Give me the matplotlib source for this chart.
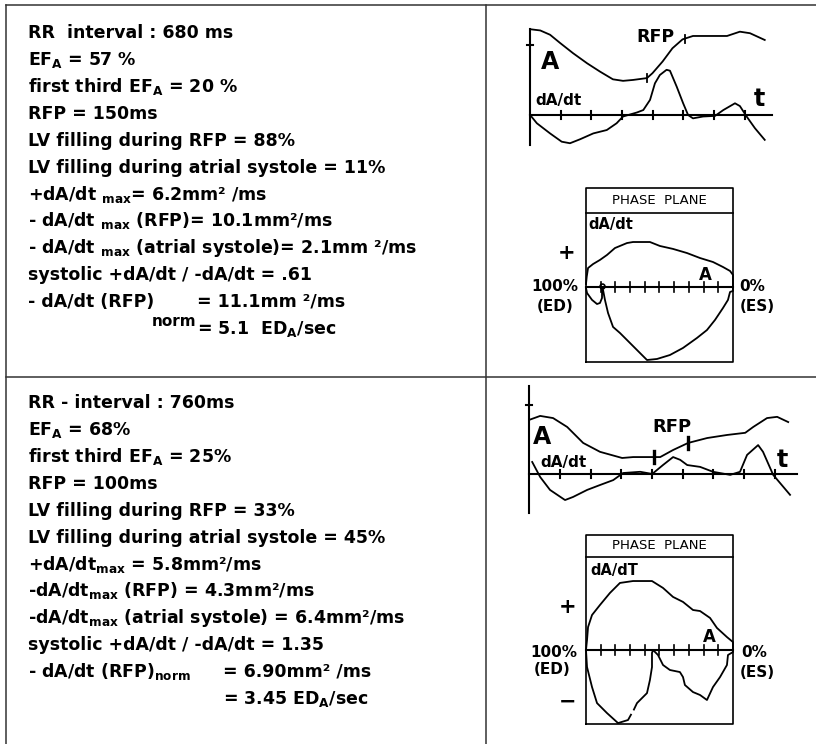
import numpy as np
import matplotlib
matplotlib.use("Agg")
import matplotlib.pyplot as plt

plt.rcParams["font.family"] = ["DejaVu Sans"]
plt.rcParams["mathtext.fontset"] = "dejavusans"
plt.rcParams["mathtext.default"] = "bf"

W, H = 816, 744

# ---------------- values ----------------
# upper case: RR 680 ms
case1_text = [
    "RR  interval : 680 ms",
    "EF$_A$ = 57 %",
    "first third EF$_A$ = 20 %",
    "RFP = 150ms",
    "LV filling during RFP = 88%",
    "LV filling during atrial systole = 11%",
    "+dA/dt $_{max}$= 6.2mm² /ms",
    "- dA/dt $_{max}$ (RFP)= 10.1mm²/ms",
    "- dA/dt $_{max}$ (atrial systole)= 2.1mm ²/ms",
    "systolic +dA/dt / -dA/dt = .61",
    "- dA/dt (RFP)",
    "",
]
case1_col2 = ["", "", "", "", "", "", "", "", "", "",
              "= 11.1mm ²/ms", "= 5.1  ED$_A$/sec"]

# time course (x in tick units, y in same units)
c1_area_t = [0, 0.33, 0.65, 0.98, 1.40, 1.86, 2.28, 2.70, 3.03, 3.36, 3.81,
             3.99, 4.32, 4.64, 4.97, 5.31, 5.77, 6.42, 6.84, 7.17, 7.65]
c1_area = [2.79, 2.75, 2.61, 2.34, 2.01, 1.68, 1.41, 1.16, 1.11, 1.14, 1.20,
           1.36, 1.74, 2.17, 2.46, 2.57, 2.57, 2.57, 2.71, 2.66, 2.44]
c1_rate_t = [0, 0.22, 0.65, 1.03, 1.30, 1.63, 2.06, 2.50, 2.82, 3.03, 3.48,
             3.69, 3.91, 4.07, 4.23, 4.45, 4.56, 4.78, 4.99, 5.15, 5.31, 5.64,
             6.03, 6.30, 6.68, 6.84, 7.06, 7.33, 7.65]
c1_rate = [0, -0.27, -0.60, -0.87, -0.92, -0.79, -0.60, -0.49, -0.27, -0.05,
           0.08, 0.16, 0.49, 1.03, 1.30, 1.47, 1.44, 0.92, 0.38, 0, -0.11,
           -0.05, -0.03, 0.16, 0.38, 0.29, -0.05, -0.43, -0.81]
c1_rfp = [3.81, 5.05]

# phase plane (x: % of end-diastolic area, y: dA/dt)
c1_pp_vol = [100, 99.5, 98.6, 95.2, 90.5, 85.7, 80.3, 72.1, 68.0, 56.5, 49.7,
             40.8, 31.3, 22.4, 13.6, 6.8, 2.0, 0, 0, 2.0, 3.4, 6.8, 12.2, 17.7,
             24.5, 34.0, 42.9, 51.7, 58.5, 65.3, 72.1, 76.9, 81.6, 85.0, 87.1,
             88.4, 89.1, 89.1, 90.5, 92.5, 95.9, 99.3, 100]
c1_pp_rate = [2.0, 7.0, 12.9, 15.6, 18.4, 21.8, 26.5, 29.9, 30.6, 30.6, 27.9,
              25.9, 23.1, 19.7, 17.0, 13.6, 10.9, 8.2, -2.7, -3.4, -8.8, -14.3,
              -22.4, -29.3, -34.7, -41.5, -46.3, -49.0, -49.7, -42.9, -36.1,
              -31.3, -27.2, -17.7, -8.8, -2.0, -0.7, -7.5, -10.9, -11.6, -8.8,
              -4.1, -0.7]

# lower case: RR 760 ms
case2_text = [
    "RR - interval : 760ms",
    "EF$_A$ = 68%",
    "first third EF$_A$ = 25%",
    "RFP = 100ms",
    "LV filling during RFP = 33%",
    "LV filling during atrial systole = 45%",
    "+dA/dt$_{max}$ = 5.8mm²/ms",
    "-dA/dt$_{max}$ (RFP) = 4.3mm²/ms",
    "-dA/dt$_{max}$ (atrial systole) = 6.4mm²/ms",
    "systolic +dA/dt / -dA/dt = 1.35",
    "- dA/dt (RFP)$_{norm}$",
    "",
]
case2_col2 = ["", "", "", "", "", "", "", "", "", "",
              "= 6.90mm² /ms", "= 3.45 ED$_A$/sec"]

c2_area_t = [0, 0.36, 0.78, 1.24, 1.76, 2.31, 3.03, 3.39, 4.04, 4.27, 4.69,
             5.18, 5.80, 6.45, 7.04, 7.30, 7.75, 8.08, 8.44]
c2_area = [1.76, 1.89, 1.82, 1.53, 1.01, 0.72, 0.52, 0.55, 0.55, 0.55, 0.78,
           1.01, 1.17, 1.27, 1.34, 1.53, 1.82, 1.86, 1.69]
c2_rate_t = [0.10, 0.36, 0.68, 1.17, 1.43, 1.89, 2.31, 2.74, 3.06, 3.62, 4.01,
             4.36, 4.69, 4.92, 5.15, 5.57, 5.99, 6.55, 6.87, 7.10, 7.46, 7.62,
             7.95, 8.50]
c2_rate = [0.39, -0.10, -0.52, -0.85, -0.75, -0.52, -0.36, -0.20, 0.03, 0.07,
           0, 0.29, 0.55, 0.46, 0.29, 0.23, 0.07, -0.03, 0.07, 0.62, 0.94,
           0.72, -0.03, -0.68]
c2_rfp = [4.07, 5.18]

c2_pp_vol = [100, 99.3, 98.6, 95.9, 90.5, 83.7, 76.9, 68.0, 55.1, 47.6, 40.8,
             34.0, 27.2, 22.4, 15.6, 10.9, 4.1, 0, 0, 3.4, 4.1, 8.8, 13.6, 17.7,
             22.4, 27.2, 32.7, 34.0, 36.1, 42.9, 47.6, 51.0, 54.4, 55.1, 55.1,
             56.5, 58.5, 65.3, 67.4, np.nan, 69.4, 71.4, 78.2, 85.7, 92.5, 95.9,
             99.3, 100]
c2_pp_rate = [0, 6.8, 15.6, 23.8, 30.6, 38.8, 45.6, 46.9, 46.9, 42.2, 36.1,
              32.7, 27.2, 26.5, 21.8, 15.0, 8.8, 5.4, -1.4, -3.4, -10.2, -18.4,
              -25.2, -34.0, -30.6, -28.6, -23.8, -18.4, -15.0, -13.6, -10.2,
              -3.4, 0, -2.0, -11.6, -20.4, -29.3, -36.1, -40.5, np.nan, -44.0,
              -47.6, -49.7, -42.9, -36.1, -25.2, -11.6, 0]

# ---------------- drawing ----------------
fig = plt.figure(figsize=(W / 100, H / 100), dpi=100)


def px_axes(x0, y0, x1, y1):
    ax = fig.add_axes([x0 / W, 1 - y1 / H, (x1 - x0) / W, (y1 - y0) / H])
    ax.set_axis_off()
    return ax


page = px_axes(0, 0, W, H)
page.set_xlim(0, W)
page.set_ylim(H, 0)
for xs, ys in [([6, W], [5, 5]), ([6, W], [377, 377]),
               ([6, 6], [5, H]), ([486, 486], [5, H])]:
    page.plot(xs, ys, color="#333333", lw=1.1)

txt = dict(fontsize=12.5, fontweight="bold", va="baseline", color="black")


def write_block(lines, col2, base0, col2_x):
    for i, s in enumerate(lines):
        yb = base0 + i * 26.85
        if s:
            page.text(28, yb, s, **txt)
        if col2[i]:
            page.text(col2_x, yb, col2[i], **txt)


write_block(case1_text, case1_col2, 38.5, 197)
page.text(152, 38.5 + 11 * 26.85 - 8, "norm", fontsize=11,
          fontweight="bold", va="baseline", color="black")
write_block(case2_text, case2_col2, 408.5, 223)

lw_curve = 1.3
lw_axis = 1.5


def time_panel(box, xlim, ylim, at, a, rt, r, rfp, ax_top, ax_bot, ax_right,
               ntick, ytick, rfp_lw, rfp_len):
    ax = px_axes(*box)
    ax.set_xlim(*xlim)
    ax.set_ylim(*ylim)
    ax.plot([0, 0], [ax_bot, ax_top], color="black", lw=lw_axis)
    ax.plot([0, ax_right], [0, 0], color="black", lw=lw_axis)
    for k in range(1, ntick + 1):
        ax.plot([k, k], [-0.13, 0.13], color="black", lw=lw_axis)
    ax.plot([-0.1, 0.1], [ytick, ytick], color="black", lw=lw_axis)
    ax.plot(at, a, color="black", lw=lw_curve)
    ax.plot(rt, r, color="black", lw=lw_curve)
    for x in rfp:
        y = np.interp(x, at, a)
        ax.plot([x, x], [y - rfp_len, y + rfp_len], color="black", lw=rfp_lw)
    return ax


def phase_panel(box, xlim, ylim, vol, rate, box_top, sep, box_bot):
    ax = px_axes(*box)
    ax.set_xlim(*xlim)
    ax.set_ylim(*ylim)
    ax.plot([100, 0, 0, 100, 100], [box_bot, box_bot, box_top, box_top, box_bot],
            color="black", lw=1.2)
    ax.plot([100, 0], [sep, sep], color="black", lw=1.2)
    ax.plot([100, 0], [0, 0], color="black", lw=lw_axis)
    for k in range(10, 100, 10):
        ax.plot([k, k], [-3.2, 3.2], color="black", lw=1.2)
    ax.plot(vol, rate, color="black", lw=lw_curve)
    ax.text(50, (box_top + sep) / 2, "PHASE  PLANE", fontsize=9.5,
            fontweight="normal", ha="center", va="center", color="black")
    return ax


big = dict(fontweight="bold", color="black")

# upper case plots
t1 = time_panel((520, 20, 800, 150), (-0.33, 8.8), (-1.14, 3.09),
                c1_area_t, c1_area, c1_rate_t, c1_rate, c1_rfp,
                2.79, -0.98, 7.9, 7, 2.28, 1.3, 0.13)
t1.text(0.65, 1.73, "A", fontsize=17, ha="center", va="center", **big)
t1.text(0.16, 0.46, "dA/dt", fontsize=11, ha="left", va="center", **big)
t1.text(7.49, 0.52, "t", fontsize=17, ha="center", va="center", **big)
t1.text(4.10, 2.54, "RFP", fontsize=12.5, ha="center", va="center", **big)

p1 = phase_panel((520, 185, 790, 365), (144.9, -38.8), (-53.1, 69.4),
                 c1_pp_vol, c1_pp_rate, 67.3, 50.3, -51.0)
p1.plot([89.1], [0.7], marker="o", ms=3.5, mfc="none", mec="black", mew=1.2)
p1.text(98.6, 42.2, "dA/dt", fontsize=10.5, ha="left", va="center", **big)
p1.text(112.9, 23.1, "+", fontsize=15, ha="center", va="center", **big)
p1.text(105.4, 0, "100%", fontsize=11, ha="right", va="center", **big)
p1.text(121.1, -13.6, "(ED)", fontsize=11, ha="center", va="center", **big)
p1.text(-12.9, 0, "0%", fontsize=11, ha="center", va="center", **big)
p1.text(-16.3, -13.6, "(ES)", fontsize=11, ha="center", va="center", **big)
p1.text(19.0, 8.2, "A", fontsize=12, ha="center", va="center", **big)

# lower case plots
t2 = time_panel((519, 380, 810, 520), (-0.33, 9.15), (-1.50, 3.06),
                c2_area_t, c2_area, c2_rate_t, c2_rate, c2_rfp,
                2.87, -1.27, 8.73, 8, 2.25, 2.4, 0.2)
t2.text(0.42, 1.21, "A", fontsize=17, ha="center", va="center", **big)
t2.text(0.36, 0.36, "dA/dt", fontsize=11, ha="left", va="center", **big)
t2.text(8.24, 0.45, "t", fontsize=17, ha="center", va="center", **big)
t2.text(4.66, 1.53, "RFP", fontsize=13, ha="center", va="center", **big)

p2 = phase_panel((520, 530, 790, 730), (144.9, -38.8), (-54.4, 81.6),
                 c2_pp_vol, c2_pp_rate, 78.2, 63.3, -50.3)
p2.text(97.3, 54.4, "dA/dT", fontsize=10.5, ha="left", va="center", **big)
p2.text(112.2, 29.3, "+", fontsize=15, ha="center", va="center", **big)
p2.text(112.2, -35.4, "\u2212", fontsize=15, ha="center", va="center", **big)
p2.text(106.1, -1.4, "100%", fontsize=11, ha="right", va="center", **big)
p2.text(123.1, -13.6, "(ED)", fontsize=11, ha="center", va="center", **big)
p2.text(-14.3, -1.4, "0%", fontsize=11, ha="center", va="center", **big)
p2.text(-16.3, -15.0, "(ES)", fontsize=11, ha="center", va="center", **big)
p2.text(16.3, 8.8, "A", fontsize=12, ha="center", va="center", **big)

fig.savefig("out.png", dpi=100, facecolor="white")
